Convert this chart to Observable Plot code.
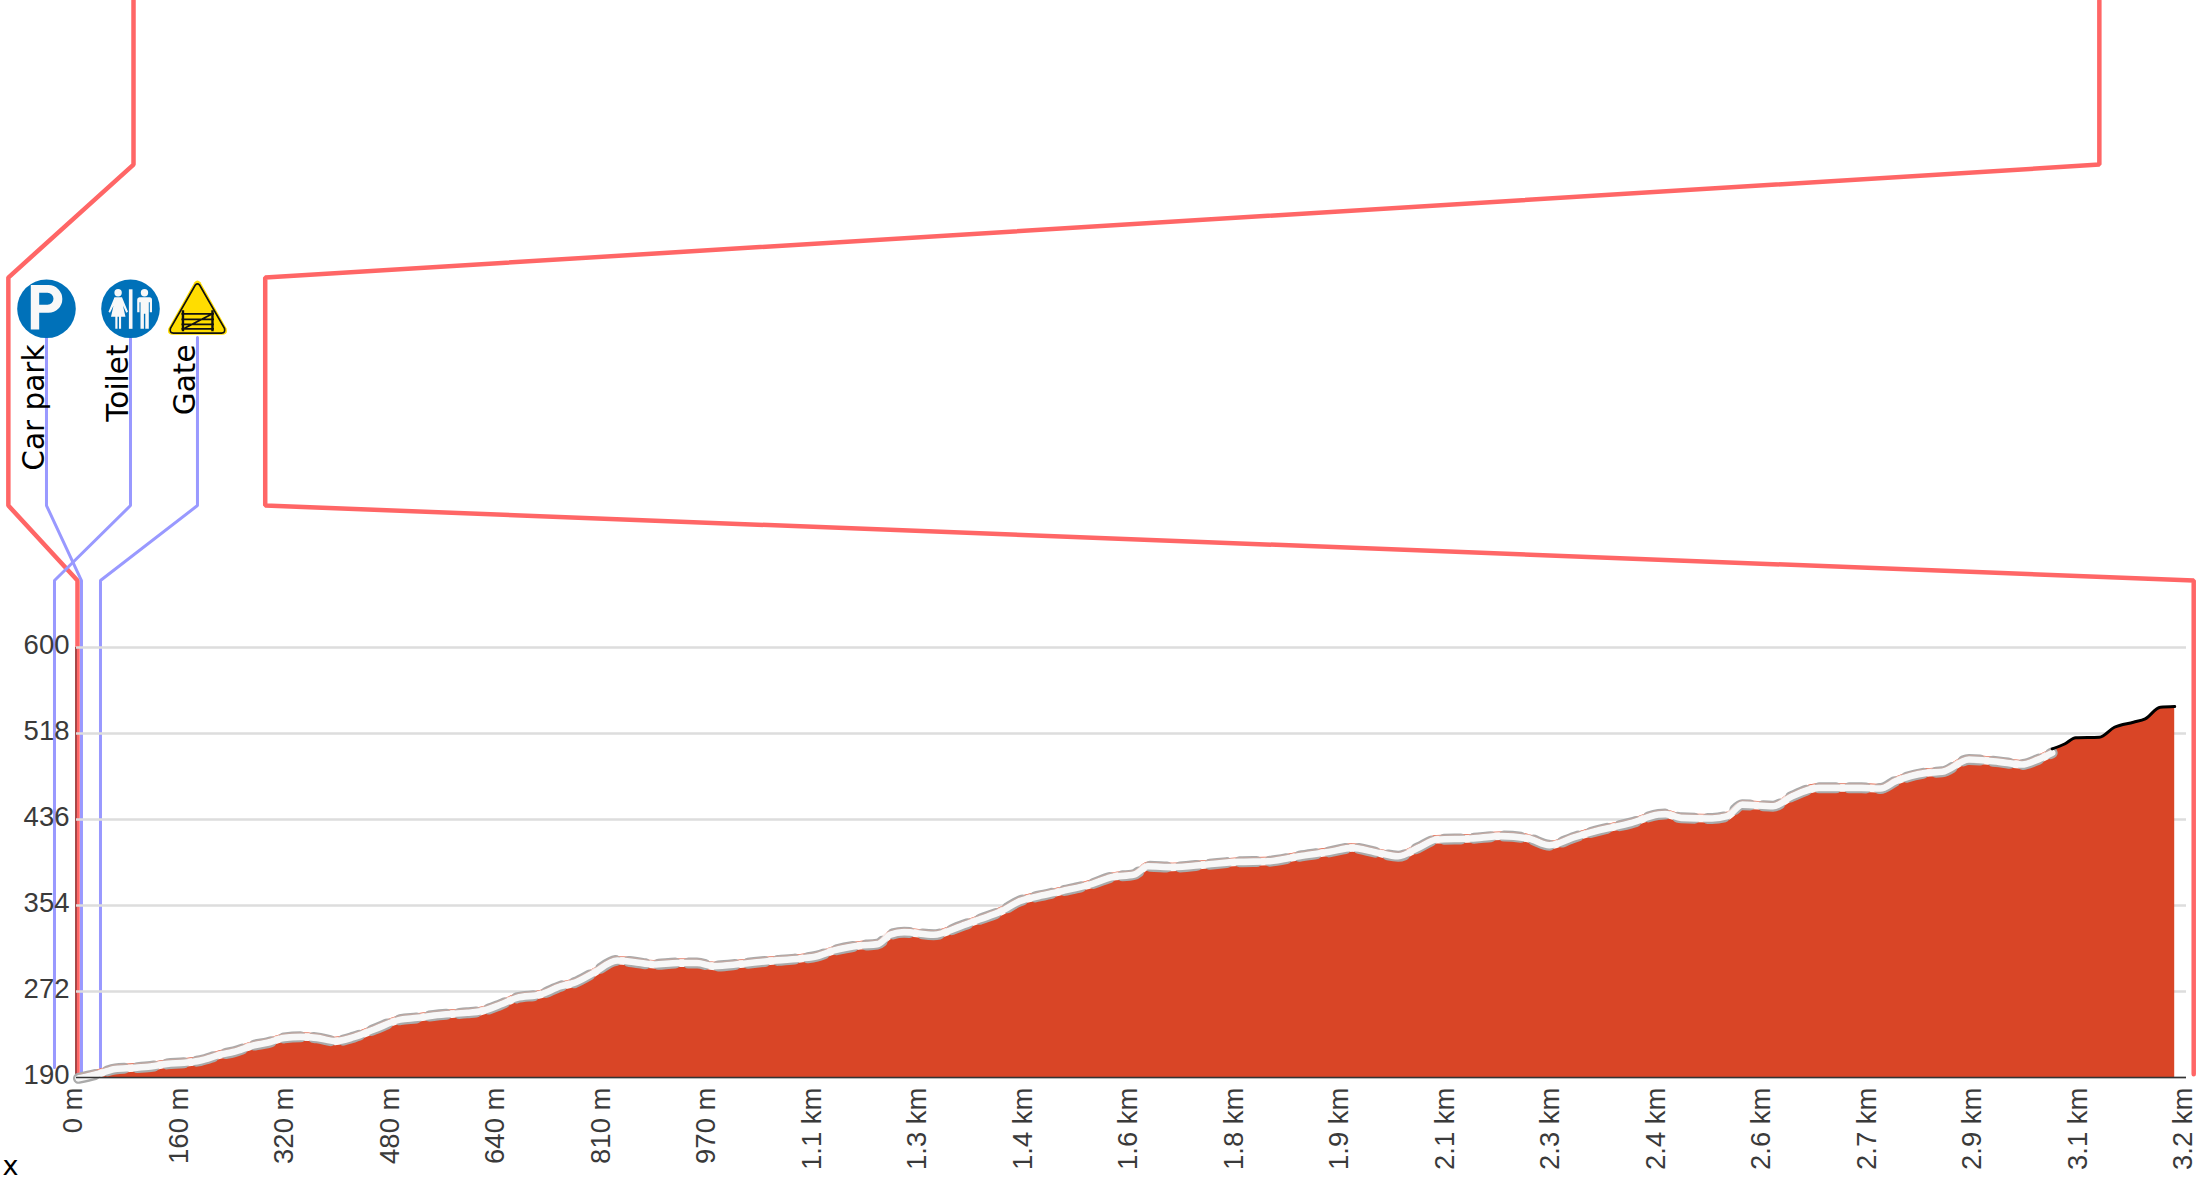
<!doctype html>
<html>
<head>
<meta charset="utf-8">
<script src="https://cdn.jsdelivr.net/npm/d3@7"></script>
<script src="https://cdn.jsdelivr.net/npm/@observablehq/plot@0.6"></script>
<style>
html,body{margin:0;padding:0;background:#fff}
svg{display:block;overflow:visible}
</style>
</head>
<body>
<div id="chart"></div>
<script>
// Elevation profile: distance (m) and elevation (m)
const routeDistance = [3,37,59,87,113,138,164,189,220,240,271,291,317,342,367,395,423,454,494,520,545,596,617,647,672,708,739,759,789,825,850,881,917,947,973,1013,1054,1105,1130,1156,1196,1222,1242,1263,1308,1349,1380,1410,1439,1468,1503,1550,1579,1614,1635,1673,1725,1772,1819,1866,1912,1947,1982,2017,2047,2076,2128,2175,2216,2248,2286,2326,2373,2414,2425,2449,2496,2519,2542,2589,2618,2659,2724,2753,2776,2823,2847,2888,2934,2969,2993,3015];
const routeElevation = [193,198,202,203,204.3,206.8,207.8,210,215.7,218.3,224.6,226.9,231.6,232.6,231.6,228.5,232.3,239.6,249,250.7,253,255.5,257,263.4,269.8,273,280.9,284,293.6,305.4,304,301.6,303,303,300,302,304.7,307.3,309.5,315,319.7,321,330,332.4,330,338,345,352,362,366.7,371.5,378.5,384.8,387.4,395.3,394.4,397,399.4,400,404.8,409,412.8,408.7,404.8,412.8,420.7,421.7,424,421.7,415.3,423,430,436.6,444.6,445,441.4,440.8,443,454,452.5,462,470,470,469.4,476.4,484.3,485.3,497,494.8,492.3,497,503.4];
const climbDistance = [3015,3034,3051,3087,3110,3139,3157,3180,3202];
const climbElevation = [503.4,508,514,514.5,524,528.8,532,543,543.7];

const tickDistance = d3.range(21).map(i => i * 161);
const tickLabels = ["0 m","160 m","320 m","480 m","640 m","810 m","970 m","1.1 km","1.3 km","1.4 km","1.6 km","1.8 km","1.9 km","2.1 km","2.3 km","2.4 km","2.6 km","2.7 km","2.9 km","3.1 km","3.2 km"];
const elevationTicks = [190,272,354,436,518,600];

// Bracket lines, in the same units
const bracketLeftD = [87,87,-104,-104,1.5,1.5];
const bracketLeftE = [1217,1060.5,952.8,735.4,663.9,192];
const bracketRightD = [3087,3087,288,288,3231,3231];
const bracketRightE = [1217,1060.5,952.8,735.4,663.9,193];

// Waypoints
const waypointNames = ["Car park","Toilet","Gate"];
const waypointIconD = [-45.8,82.4,184.6];
const leaderD = [[-45.8,-45.8,7.6,7.6],[82.4,82.4,-33.6,-33.6],[184.6,184.6,36.6,36.6]];
const leaderE = [[895.6,735.4,663.9,194.8],[895.6,735.4,663.9,199.5],[895.6,735.4,663.9,199.5]];
const iconElevation = 923;
const labelElevation = 889;

const svgUri = s => "data:image/svg+xml," + encodeURIComponent(`<svg xmlns="http://www.w3.org/2000/svg" viewBox="0 0 60 60">${s}</svg>`);
const parkingIcon = svgUri(`<circle cx="30" cy="30" r="29.3" fill="#0071b9"/><path fill="#f8f8f8" fill-rule="evenodd" d="M14.3 6.3H32A13.85 13.85 0 0 1 32 34H22.7V50.7H14.3ZM22.7 14V26H31A6 6 0 0 0 31 14Z"/>`);
const toiletIcon = svgUri(`<circle cx="30" cy="30" r="29.3" fill="#0071b9"/><g fill="#f8f8f8"><rect x="28.4" y="10.5" width="3.6" height="39.5"/><circle cx="17.6" cy="14" r="3.7"/><path d="M14 18.5H21.5L27.5 33L25.8 34L22.5 27L25 38H20.6V50H18.5V38H17V50H14.8V38H10.5L13 27L9.5 34L8 33Z"/><circle cx="44" cy="14" r="3.7"/><path d="M39 18.5H49Q51.5 18.5 51.5 21V33.5H49.3V23.5H48.3V50H44.8V35H43.4V50H40V23.5H39V33.5H36.7V21Q36.7 18.5 39 18.5Z"/></g>`);
const gateIcon = svgUri(`<path d="M27 3.5Q30 0 33 3.5L59 49.5Q61 56 54.5 56H5.5Q-1 56 1 49.5Z" fill="#ffdd00"/><path d="M28 6Q30 4 32 6L57 49.5Q58.3 54.3 54 54.3H6Q1.7 54.3 3 49.5Z" fill="#ffdd00" stroke="#111" stroke-width="1.7"/><g stroke="#111" fill="none"><path stroke-width="2.4" d="M15.5 31.5V52.5M45 31.5V52.5"/><path stroke-width="1.8" d="M14 35H46.5M14 40.5H46.5M14 45.5H46.5M14 50H46.5M17 49.5L44 35.5"/></g>`);
const waypointIcons = [parkingIcon,toiletIcon,gateIcon];

const profileCurve = "monotone-x";

const chart = Plot.plot({
  width: 2201,
  height: 1192,
  marginLeft: 76,
  marginRight: 15,
  marginTop: 0,
  marginBottom: 115,
  style: {background: "#fff", overflow: "visible"},
  x: {domain: [0, 3220], label: null},
  y: {domain: [190, 1217], label: null},
  marks: [
    // bracket lines
    Plot.line(bracketLeftD, {x: bracketLeftD, y: bracketLeftE, stroke: "#ff6666", strokeWidth: 4.5, strokeLinecap: "round", strokeLinejoin: "miter"}),
    Plot.line(bracketRightD, {x: bracketRightD, y: bracketRightE, stroke: "#ff6666", strokeWidth: 4.5, strokeLinecap: "round", strokeLinejoin: "miter"}),
    // waypoint leaders
    ...leaderD.map((xs, i) => Plot.line(xs, {x: xs, y: leaderE[i], stroke: "#9999ff", strokeWidth: 3, strokeLinejoin: "miter"})),
    // y axis rule
    Plot.ruleX([-0.8], {y1: 190, y2: 600, stroke: "#8a3a3a", strokeWidth: 1.5}),
    // grid
    Plot.gridY(elevationTicks, {stroke: "#dddddd", strokeOpacity: 1, strokeWidth: 2.6}),
    // terrain
    Plot.areaY(routeElevation.concat(climbElevation), {x: routeDistance.concat(climbDistance), y1: 190, y2: routeElevation.concat(climbElevation), fill: "#d94526", curve: profileCurve}),
    // route casing
    Plot.line(routeElevation, {x: routeDistance, y: routeElevation, stroke: "#f7f7f7", strokeWidth: 8, dy: 4, curve: profileCurve}),
    Plot.line(routeElevation, {x: routeDistance, y: routeElevation, stroke: "#aaaaaa", strokeWidth: 11, strokeDasharray: "17 13", dy: 4, curve: profileCurve}),
    Plot.line(routeElevation, {x: routeDistance, y: routeElevation, stroke: "#f7f7f7", strokeWidth: 6.6, dy: 4, curve: profileCurve}),
    Plot.line(routeElevation, {x: routeDistance, y: routeElevation, stroke: "#f4a08c", strokeWidth: 0.5, strokeOpacity: 0.7, curve: profileCurve}),
    // final climb
    Plot.line(climbElevation, {x: climbDistance, y: climbElevation, stroke: "#000", strokeWidth: 3, strokeLinecap: "round", curve: profileCurve}),
    // baseline
    Plot.ruleY([190], {stroke: "#333", strokeWidth: 1.5}),
    // axes
    Plot.axisX(tickDistance, {tickFormat: (d, i) => tickLabels[i], tickRotate: -90, tickSize: 0, tickPadding: 10, fontSize: 27.5, fontFamily: "Liberation Sans", fill: "#3a3a3a", dx: -3, label: null}),
    Plot.axisY(elevationTicks, {tickSize: 0, tickPadding: 7, fontSize: 27.5, fontFamily: "Liberation Sans", fill: "#3a3a3a", dy: -2, label: null}),
    // icons and labels
    Plot.image(waypointIcons, {x: waypointIconD, y: waypointIconD.map(() => iconElevation), src: waypointIcons, width: 60, height: 60}),
    Plot.text(waypointNames, {x: waypointIconD, y: waypointIconD.map(() => labelElevation), text: waypointNames, rotate: -90, textAnchor: "end", lineAnchor: "bottom", dx: -2.5, fontSize: 29.5, fontFamily: "DejaVu Sans", fill: "#000"}),
    Plot.text(["x"], {frameAnchor: "bottom-left", textAnchor: "start", lineAnchor: "bottom", dx: -74, dy: 97, fontSize: 27, fontFamily: "DejaVu Sans", fill: "#000"})
  ]
});
document.getElementById("chart").append(chart);
</script>
</body>
</html>
